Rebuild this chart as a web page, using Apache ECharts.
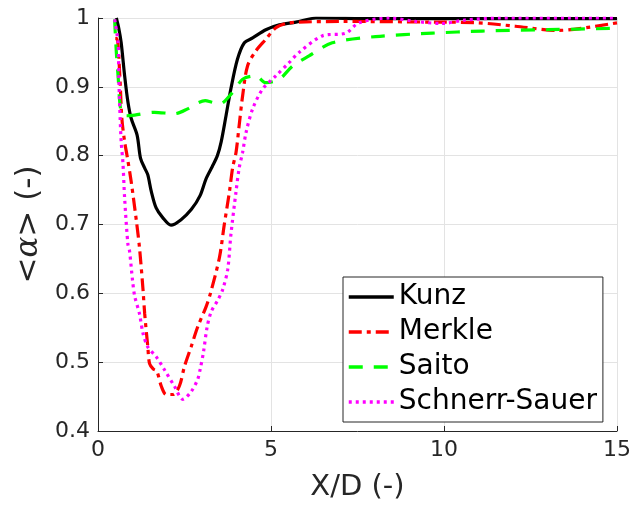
<!DOCTYPE html>
<html><head><meta charset="utf-8">
<script src="https://cdn.jsdelivr.net/npm/echarts@6/dist/echarts.min.js"></script>
<style>html,body{margin:0;padding:0;background:#fff}#c{width:634px;height:507px}</style>
</head><body><div id="c"></div>
<script>
const xTicks = [0, 5, 10, 15];
const yTicks = [0.4, 0.5, 0.6, 0.7, 0.8, 0.9, 1];
const seriesNames = ['Kunz', 'Merkle', 'Saito', 'Schnerr-Sauer'];
const kunz = [[0.53,1.0],[0.6,0.985],[0.67,0.964],[0.77,0.916],[0.865,0.878],[0.96,0.854],[1.13,0.83],[1.23,0.796],[1.35,0.782],[1.44,0.772],[1.54,0.748],[1.68,0.724],[1.87,0.71],[2.11,0.699],[2.4,0.707],[2.7,0.722],[2.95,0.742],[3.12,0.766],[3.3,0.784],[3.45,0.8],[3.56,0.82],[3.7,0.858],[3.84,0.897],[4.03,0.94],[4.23,0.964],[4.47,0.971],[4.85,0.983],[5.24,0.99],[5.72,0.994],[6.3,1.0],[8,0.999],[10,0.999],[12,0.999],[15,0.999]];
const merkle = [[0.5,0.97],[0.55,0.97],[0.63,0.916],[0.69,0.854],[0.77,0.82],[0.84,0.80],[0.96,0.762],[1.11,0.705],[1.2,0.666],[1.3,0.606],[1.35,0.570],[1.44,0.522],[1.49,0.498],[1.6,0.49],[1.7,0.487],[1.83,0.465],[1.97,0.453],[2.16,0.453],[2.35,0.465],[2.5,0.494],[2.69,0.522],[2.88,0.551],[3.12,0.58],[3.25,0.6],[3.51,0.652],[3.65,0.70],[3.8,0.748],[3.89,0.782],[3.99,0.805],[4.08,0.844],[4.18,0.887],[4.32,0.93],[4.56,0.952],[4.85,0.969],[5.14,0.986],[5.43,0.992],[5.81,0.994],[7,0.995],[9.75,0.994],[11,0.993],[12.06,0.988],[13.3,0.982],[13.97,0.985],[15,0.993]];
const saito = [[0.48,0.998],[0.53,0.95],[0.58,0.916],[0.67,0.863],[0.82,0.858],[1.06,0.859],[1.63,0.863],[2.21,0.861],[2.59,0.868],[2.9,0.877],[3.1,0.88],[3.27,0.878],[3.51,0.875],[3.89,0.892],[4.18,0.911],[4.56,0.916],[4.85,0.906],[5.24,0.911],[5.62,0.93],[6.1,0.945],[6.77,0.964],[8.02,0.973],[9.66,0.978],[11.1,0.981],[13,0.983],[15,0.985]];
const schnerr = [[0.48,0.998],[0.58,0.964],[0.6,0.916],[0.63,0.868],[0.67,0.82],[0.72,0.79],[0.77,0.738],[0.865,0.671],[0.91,0.662],[1.0,0.618],[1.06,0.596],[1.2,0.57],[1.3,0.542],[1.44,0.522],[1.68,0.508],[1.92,0.489],[2.21,0.465],[2.45,0.446],[2.69,0.457],[2.88,0.475],[2.95,0.489],[3.05,0.515],[3.15,0.55],[3.27,0.573],[3.46,0.59],[3.6,0.605],[3.75,0.635],[3.84,0.685],[3.99,0.748],[4.08,0.782],[4.18,0.805],[4.28,0.834],[4.47,0.868],[4.76,0.897],[5.14,0.916],[5.52,0.935],[5.81,0.95],[6.48,0.974],[7.16,0.978],[7.54,0.993],[8.41,1.0],[9.18,0.995],[9.94,0.992],[10.6,0.997],[11.6,1.0],[15,1.0]];

const FONT = 'DejaVu Sans';
const AX = '#262626';
const chart = echarts.init(document.getElementById('c'), null, {renderer: 'canvas'});
chart.setOption({
  animation: false,
  backgroundColor: '#fff',
  textStyle: {fontFamily: FONT},
  grid: {left: 98, right: 16, top: 18, bottom: 72, containLabel: false},
  xAxis: {
    type: 'value', min: xTicks[0], max: xTicks[xTicks.length-1], interval: 5,
    name: 'X/D (-)', nameLocation: 'middle', nameGap: 42,
    nameTextStyle: {fontSize: 29, color: AX, fontFamily: FONT},
    axisLine: {show: true, lineStyle: {color: AX, width: 1}},
    axisTick: {show: true, inside: true, length: 5, lineStyle: {color: AX}},
    axisLabel: {fontSize: 22, color: AX, margin: 8, fontFamily: FONT},
    splitLine: {show: true, lineStyle: {color: '#e3e3e3', width: 1}}
  },
  yAxis: {
    type: 'value', min: yTicks[0], max: yTicks[yTicks.length-1], interval: 0.1,
    name: '{a|<}{b|α}{a|> (-)}', nameLocation: 'middle', nameGap: 50, nameRotate: 90,
    nameTextStyle: {color: AX, fontFamily: FONT, rich: {
      a: {fontSize: 31, color: AX, fontFamily: FONT},
      b: {fontSize: 31, color: AX, fontFamily: 'DejaVu Serif', fontStyle: 'italic'}
    }},
    axisLine: {show: true, lineStyle: {color: AX, width: 1}},
    axisTick: {show: true, inside: true, length: 5, lineStyle: {color: AX}},
    axisLabel: {fontSize: 22, color: AX, margin: 8, fontFamily: FONT,
      formatter: v => (Math.abs(v-1) < 1e-9 ? '1' : v.toFixed(1))},
    splitLine: {show: true, lineStyle: {color: '#e3e3e3', width: 1}}
  },
  legend: {
    orient: 'vertical', left: 343, top: 277,
    data: seriesNames,
    backgroundColor: '#fff', borderColor: AX, borderWidth: 1,
    padding: [5, 6, 5, 4],
    itemWidth: 45, itemHeight: 14, itemGap: 5,
    itemStyle: {opacity: 0},
    lineStyle: {width: 3.5},
    textStyle: {fontSize: 28, color: '#000', fontFamily: FONT, lineHeight: 30}
  },
  series: [
    {name: seriesNames[0], type: 'line', data: kunz, showSymbol: false, symbol: 'none', smooth: 0.3,
     lineStyle: {color: '#000', width: 3.2}, itemStyle: {color: '#000'}},
    {name: seriesNames[1], type: 'line', data: merkle, showSymbol: false, symbol: 'none', smooth: 0.3,
     lineStyle: {color: '#ff0000', width: 3.2, type: [13, 5, 4, 5]}, itemStyle: {color: '#ff0000'}},
    {name: seriesNames[2], type: 'line', data: saito, showSymbol: false, symbol: 'none', smooth: 0.3,
     lineStyle: {color: '#00ff00', width: 3.2, type: [14, 11]}, itemStyle: {color: '#00ff00'}},
    {name: seriesNames[3], type: 'line', data: schnerr, showSymbol: false, symbol: 'none', smooth: 0.3,
     lineStyle: {color: '#ff00ff', width: 3.2, type: [3, 4]}, itemStyle: {color: '#ff00ff'}}
  ]
});
</script></body></html>
